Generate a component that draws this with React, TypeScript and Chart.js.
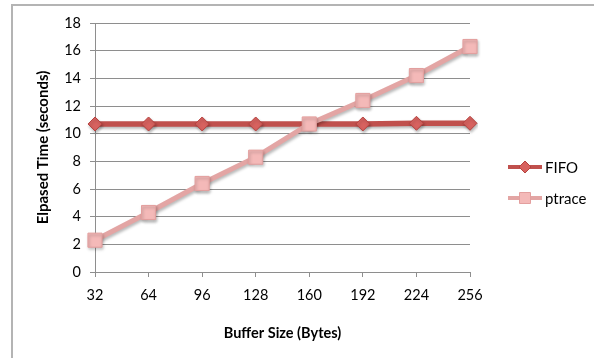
import React, { useEffect, useRef } from 'react';
import { Chart, registerables } from 'chart.js';

Chart.register(...registerables);

const categories = ['32', '64', '96', '128', '160', '192', '224', '256'];
const fifoValues = [10.7, 10.7, 10.7, 10.7, 10.7, 10.7, 10.75, 10.75];
const ptraceValues = [2.3, 4.3, 6.4, 8.3, 10.7, 12.4, 14.2, 16.3];
const seriesNames = ['FIFO', 'ptrace'];
const xTitle = 'Buffer Size (Bytes)';
const yTitle = 'Elpased Time (seconds)';
const yMin = 0;
const yMax = 18;
const yStep = 2;

const FONT = 'Lato, "Open Sans", sans-serif';
const GRID = '#8e8e8e';

const legendPlugin = {
  id: 'excelLegend',
  afterDraw(chart: any) {
    const ctx = chart.ctx;
    const datasets = chart.data.datasets;
    const x0 = 508;
    const x1 = 542;
    const startY = 167;
    const gap = 31;
    ctx.save();
    datasets.forEach((ds: any, i: number) => {
      const y = startY + i * gap;
      ctx.strokeStyle = ds.borderColor;
      ctx.lineWidth = 4;
      ctx.beginPath();
      ctx.moveTo(x0, y);
      ctx.lineTo(x1, y);
      ctx.stroke();
      const cx = (x0 + x1) / 2;
      ctx.fillStyle = ds.pointBackgroundColor;
      ctx.strokeStyle = ds.pointBorderColor;
      ctx.lineWidth = 1;
      ctx.beginPath();
      if (ds.pointStyle === 'rectRot') {
        const r = 6;
        ctx.moveTo(cx, y - r);
        ctx.lineTo(cx + r, y);
        ctx.lineTo(cx, y + r);
        ctx.lineTo(cx - r, y);
        ctx.closePath();
      } else {
        const s = 5.5;
        ctx.rect(cx - s, y - s, 2 * s, 2 * s);
      }
      ctx.fill();
      ctx.stroke();
      ctx.fillStyle = '#000';
      ctx.font = '15px ' + FONT;
      ctx.textBaseline = 'middle';
      ctx.textAlign = 'left';
      ctx.fillText(ds.label, x1 + 3, y + 1);
    });
    ctx.restore();
  },
};

const shadowPlugin = {
  id: 'shadow',
  beforeDatasetsDraw(chart: any) {
    const ctx = chart.ctx;
    ctx.save();
    ctx.shadowColor = 'rgba(0,0,0,0.28)';
    ctx.shadowBlur = 3;
    ctx.shadowOffsetX = 1;
    ctx.shadowOffsetY = 2;
  },
  afterDatasetsDraw(chart: any) {
    chart.ctx.restore();
  },
};

export default function App() {
  const ref = useRef<HTMLCanvasElement | null>(null);

  useEffect(() => {
    if (!ref.current) return;
    const chart = new Chart(ref.current, {
      type: 'line',
      data: {
        labels: categories,
        datasets: [
          {
            label: seriesNames[0],
            data: fifoValues,
            borderColor: '#c0504d',
            borderWidth: 5.5,
            pointStyle: 'rectRot',
            pointRadius: 7,
            pointBackgroundColor: '#d7625f',
            pointBorderColor: '#b5423f',
            pointBorderWidth: 1,
            order: 1,
          },
          {
            label: seriesNames[1],
            data: ptraceValues,
            borderColor: '#e3a5a4',
            borderWidth: 5,
            pointStyle: 'rect',
            pointRadius: 10,
            pointBackgroundColor: '#f4b9b8',
            pointBorderColor: '#e39f9e',
            pointBorderWidth: 1,
            order: 0,
          },
        ],
      },
      options: {
        animation: false,
        responsive: false,
        maintainAspectRatio: false,
        layout: { padding: { left: 0, right: 124, top: 23, bottom: 0 } },
        plugins: {
          legend: { display: false },
          tooltip: { enabled: false },
        },
        scales: {
          x: {
            type: 'category',
            offset: false,
            grid: {
              display: true,
              drawOnChartArea: false,
              drawTicks: true,
              tickLength: 5,
              color: GRID,
            },
            border: { display: true, color: GRID, width: 1 },
            ticks: {
              color: '#000',
              font: { family: FONT, size: 14.5 },
              padding: 10,
              maxRotation: 0,
              autoSkip: false,
            },
            title: {
              display: true,
              text: xTitle,
              color: '#000',
              font: { family: FONT, size: 14.5, weight: 'bold' },
              padding: { top: 0, bottom: 16 },
            },
            afterFit(scale: any) {
              scale.height = 86;
            },
          },
          y: {
            min: yMin,
            max: yMax,
            grid: {
              display: true,
              drawTicks: true,
              tickLength: 5,
              color: GRID,
            },
            border: { display: true, color: GRID, width: 1 },
            ticks: {
              stepSize: yStep,
              color: '#000',
              font: { family: FONT, size: 14.5 },
              padding: 9,
            },
            title: {
              display: true,
              text: yTitle,
              color: '#000',
              font: { family: FONT, size: 15, weight: 'bold' },
              padding: { top: 34, bottom: 0 },
            },
            afterFit(scale: any) {
              scale.width = 95;
            },
          },
        },
      },
      plugins: [shadowPlugin, legendPlugin],
    });
    return () => chart.destroy();
  }, []);

  return (
    <div style={{ position: 'absolute', left: 0, top: 0, width: 594, height: 358, background: '#fff', overflow: 'hidden' }}>
      <div
        style={{
          position: 'absolute',
          left: 11,
          top: 4,
          width: 700,
          height: 500,
          borderLeft: '2px solid #b4b4b4',
          borderTop: '2px solid #b4b4b4',
        }}
      />
      <canvas ref={ref} width={594} height={358} style={{ position: 'absolute', left: 0, top: 0 }} />
    </div>
  );
}
